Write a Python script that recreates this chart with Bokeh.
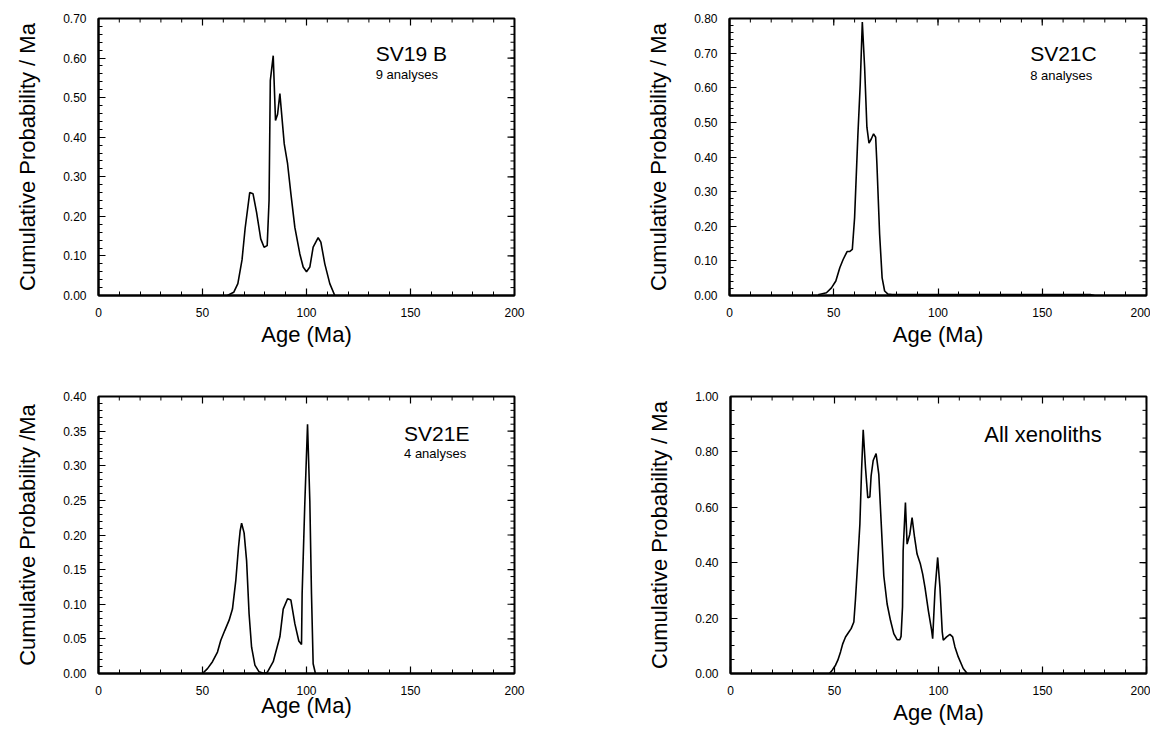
import math
from bokeh.plotting import figure
from bokeh.models import Range1d, LinearAxis, FixedTicker, NumeralTickFormatter, Label
from bokeh.layouts import column, row
from bokeh.embed import file_html
from bokeh.resources import INLINE

# ---------------- data ----------------
sv19b_age = [62, 65, 67, 69, 70.5, 72.7, 74.3, 76, 78, 79.6, 81.1, 82.0, 82.6, 84, 85.1, 86.1,
             87.2, 89.3, 90.9, 92.5, 94.4, 96.8, 98.4, 100, 101.6, 103.2, 105.6, 106.9, 108.8,
             111.2, 113.6]
sv19b_prob = [0, 0.008, 0.03, 0.09, 0.17, 0.26, 0.257, 0.21, 0.143, 0.122, 0.126, 0.24, 0.543,
              0.606, 0.442, 0.458, 0.51, 0.383, 0.333, 0.257, 0.172, 0.105, 0.072, 0.06, 0.072,
              0.122, 0.146, 0.135, 0.08, 0.03, 0.0]

sv21c_age = [42.5, 46.5, 48.9, 51, 52.9, 54.5, 56.4, 57.6, 58.9, 60, 61.6, 62.7, 63.7, 64.8,
             65.9, 66.9, 68, 69.1, 70.1, 70.7, 72, 73.2, 74.4, 76, 78, 173, 175]
sv21c_prob = [0.002, 0.008, 0.022, 0.042, 0.08, 0.104, 0.127, 0.127, 0.133, 0.225, 0.467, 0.61,
              0.79, 0.66, 0.486, 0.44, 0.452, 0.467, 0.457, 0.38, 0.177, 0.051, 0.013, 0.004,
              0.003, 0.003, 0]

sv21e_age = [50, 52.4, 54.8, 57.2, 58.8, 60.7, 62.8, 64.4, 66, 67.3, 68.1, 68.8, 70, 71.2, 72.4,
             73.6, 75.2, 77.2, 79.6, 81.2, 84, 87.2, 88.8, 90.9, 92.5, 94.4, 96.3, 97.6, 97.9,
             99.2, 100.5, 101.6, 102.4, 103.2, 104.3]
sv21e_prob = [0, 0.007, 0.017, 0.031, 0.048, 0.062, 0.077, 0.093, 0.134, 0.182, 0.206, 0.217,
              0.203, 0.163, 0.086, 0.038, 0.012, 0.0024, 0, 0.002, 0.017, 0.053, 0.093, 0.108,
              0.106, 0.072, 0.047, 0.042, 0.115, 0.247, 0.36, 0.249, 0.115, 0.014, 0]

all_age = [47.6, 48.9, 50.5, 51.6, 52.9, 54, 55.3, 56.9, 58, 59.3, 60.1, 61.2, 62.2, 63, 63.8,
           64.9, 66, 67, 67.6, 68.6, 70, 71.3, 72.4, 73.7, 75.3, 76.9, 78.5, 80.1, 81.4, 82,
           82.7, 83, 84.1, 84.9, 86.2, 87.3, 88.5, 89.7, 91.3, 92.4, 93.5, 95.1, 96.7, 97.2,
           98.3, 99.6, 100.7, 101.8, 102.3, 103.9, 105.5, 106.8, 107.9, 109.5, 111.9, 113.8]
all_prob = [0, 0.012, 0.03, 0.048, 0.078, 0.108, 0.132, 0.15, 0.162, 0.186, 0.27, 0.407, 0.539,
            0.73, 0.88, 0.743, 0.635, 0.637, 0.713, 0.769, 0.794, 0.719, 0.551, 0.353, 0.251,
            0.192, 0.144, 0.122, 0.122, 0.134, 0.24, 0.443, 0.617, 0.467, 0.503, 0.563, 0.491,
            0.431, 0.395, 0.359, 0.311, 0.228, 0.156, 0.126, 0.299, 0.419, 0.311, 0.15, 0.12,
            0.132, 0.141, 0.132, 0.096, 0.06, 0.018, 0]

x_ticks = [0, 50, 100, 150, 200]
x_minor = [0, 10, 20, 30, 40, 50, 60, 70, 80, 90, 100, 110, 120, 130, 140, 150, 160, 170, 180, 190, 200]

y_ticks_1 = [0.0, 0.1, 0.2, 0.3, 0.4, 0.5, 0.6, 0.7]
y_ticks_2 = [0.0, 0.1, 0.2, 0.3, 0.4, 0.5, 0.6, 0.7, 0.8]
y_ticks_3 = [0.0, 0.05, 0.1, 0.15, 0.2, 0.25, 0.3, 0.35, 0.4]
y_ticks_4 = [0.0, 0.2, 0.4, 0.6, 0.8, 1.0]

FONT = "Liberation Sans"


def minor_list(top, step):
    n = int(round(top / step))
    return [round(i * step, 4) for i in range(n + 1)]


def style_axis(ax):
    ax.axis_line_width = 2
    ax.axis_line_color = "black"
    ax.major_tick_in = 7
    ax.major_tick_out = 0
    ax.minor_tick_in = 4
    ax.minor_tick_out = 0
    ax.major_tick_line_color = "black"
    ax.minor_tick_line_color = "black"
    ax.major_tick_line_width = 1.2
    ax.minor_tick_line_width = 1
    ax.major_label_text_font = FONT
    ax.major_label_text_color = "black"
    ax.major_label_text_font_size = "12px"
    ax.major_label_standoff = 12
    ax.axis_label_text_font = FONT
    ax.axis_label_text_font_style = "normal"
    ax.axis_label_text_color = "black"
    ax.axis_label_text_font_size = "22px"


def panel(ages, probs, ymax, yticks, ystep, ylabel, title, sub, tx, ty, sy,
          width, height, bl, br, bt, bb, xstand, title_size="21px"):
    p = figure(width=width, height=height, x_range=Range1d(0, 200), y_range=Range1d(0, ymax),
               output_backend="svg", toolbar_location=None, x_axis_type=None, y_axis_type=None,
               min_border_left=bl, min_border_right=br, min_border_top=bt, min_border_bottom=bb)
    p.outline_line_color = "black"
    p.outline_line_width = 2
    p.background_fill_color = "white"
    p.border_fill_color = "white"

    xb = LinearAxis(ticker=FixedTicker(ticks=x_ticks, minor_ticks=x_minor), axis_label="Age (Ma)")
    style_axis(xb)
    xb.axis_label_standoff = xstand
    p.add_layout(xb, "below")

    ymin = minor_list(ymax, ystep)
    yl = LinearAxis(ticker=FixedTicker(ticks=yticks, minor_ticks=ymin), axis_label=ylabel,
                    formatter=NumeralTickFormatter(format="0.00"))
    style_axis(yl)
    yl.axis_label_standoff = 20
    p.add_layout(yl, "left")

    # mirrored inward ticks on the top and right edges (clipped to the frame)
    p.scatter(x_minor, [ymax] * len(x_minor), marker="dash", size=8, angle=math.pi / 2,
              line_color="black", line_width=1)
    p.scatter(x_ticks, [ymax] * len(x_ticks), marker="dash", size=14, angle=math.pi / 2,
              line_color="black", line_width=1.2)
    p.scatter([200] * len(ymin), ymin, marker="dash", size=8,
              line_color="black", line_width=1)
    p.scatter([200] * len(yticks), yticks, marker="dash", size=14,
              line_color="black", line_width=1.2)

    p.line(ages, probs, line_color="black", line_width=1.6)

    p.add_layout(Label(x=tx, y=ty, text=title, text_font=FONT, text_font_size=title_size,
                       text_color="black", text_baseline="alphabetic"))
    if sub:
        p.add_layout(Label(x=tx, y=sy, text=sub, text_font=FONT, text_font_size="13px",
                           text_color="black", text_baseline="alphabetic"))
    return p


p1 = panel(sv19b_age, sv19b_prob, 0.70, y_ticks_1, 0.02, "Cumulative Probability / Ma",
           "SV19 B", "9 analyses", 133.3, 0.612, 0.559,
           600, 360, 98, 86, 18, 65, 2)
p2 = panel(sv21c_age, sv21c_prob, 0.80, y_ticks_2, 0.02, "Cumulative Probability / Ma",
           "SV21C", "8 analyses", 144.2, 0.699, 0.635,
           550, 360, 129, 4, 18, 65, 2)
p3 = panel(sv21e_age, sv21e_prob, 0.40, y_ticks_3, 0.01, "Cumulative Probability /Ma",
           "SV21E", "4 analyses", 146.9, 0.347, 0.317,
           600, 369, 98, 86, 35, 56, -5)
p4 = panel(all_age, all_prob, 1.00, y_ticks_4, 0.05, "Cumulative Probability / Ma",
           "All xenoliths", None, 122.0, 0.863, None,
           550, 369, 130, 4, 36, 56, 2, title_size="22px")

layout = column(row(p1, p2), row(p3, p4))
open("out.html", "w").write(file_html(layout, INLINE))
